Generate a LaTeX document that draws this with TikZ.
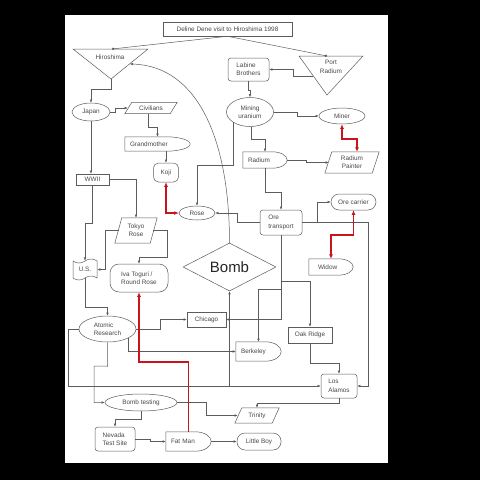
\documentclass[tikz,border=0pt]{standalone}
\usepackage{fontspec}
\setmainfont{Liberation Sans}
\usetikzlibrary{arrows.meta,shapes.geometric,shapes.symbols,calc}

\definecolor{linec}{HTML}{5C5C5C}
\definecolor{textc}{HTML}{484848}
\definecolor{redc}{HTML}{C8141C}

% flat left side, round right side
\newcommand{\delayline}[2]{%
  \draw[shapeline] (#1.north west) -- ([xshift=-#2]#1.north east)
    .. controls ([xshift=-0.45*#2]#1.north east) and ($(#1.north east)!0.45!(#1.east)$) .. (#1.east)
    .. controls ($(#1.south east)!0.45!(#1.east)$) and ([xshift=-0.45*#2]#1.south east) .. ([xshift=-#2]#1.south east)
    -- (#1.south west) -- cycle;}
% slanted box
\newcommand{\paraline}[2]{%
  \draw[shapeline] ([xshift=#2]#1.north west) -- (#1.north east) -- ([xshift=-#2]#1.south east) -- (#1.south west) -- cycle;}

\begin{document}
\begin{tikzpicture}[x=1pt, y=-1pt]
  \tikzset{every node/.style={font=\fontsize{6.4}{8.4}\selectfont, text=textc}}
  \tikzset{shapeline/.style={draw=linec, line width=0.5pt}}
  \tikzset{conn/.style={draw=linec, line width=0.5pt, -{Latex[length=3.2pt,width=2.6pt]}}}
  \tikzset{dotconn/.style={draw=linec, line width=0.5pt, -{Circle[length=2.4pt]}}}
  \tikzset{redconn/.style={draw=redc, line width=1.5pt, {Latex[length=4.5pt,width=4pt]}-{Latex[length=4.5pt,width=4pt]}}}
  \tikzset{redone/.style={draw=redc, line width=1.5pt, -{Latex[length=4.5pt,width=4pt]}}}
  \tikzset{plainbox/.style 2 args={shapeline, minimum width=#1, minimum height=#2, inner sep=0pt}}
  \tikzset{roundbox/.style 2 args={plainbox={#1}{#2}, rounded corners=3pt}}
  \tikzset{pillbox/.style 2 args={plainbox={#1}{#2}, rounded corners=8pt}}
  \tikzset{ovalbox/.style 2 args={plainbox={#1}{#2}, ellipse}}
  \tikzset{tapebox/.style 2 args={plainbox={#1}{#2}, tape, tape bend height=4pt}}
  \tikzset{delaybox/.style 2 args={text width=#1, minimum height=#2, inner xsep=5pt, inner ysep=0pt, align=left}}
  \tikzset{parabox/.style 2 args={minimum width=#1, minimum height=#2, inner sep=0pt, align=center}}

  \fill[black] (0,0) rectangle (480,480);
  \fill[white] (65,15) rectangle (388,463);
  \useasboundingbox (0,0) rectangle (480,480);

  \node[plainbox={129pt}{14pt}] (title) at (227.5,29) {Deline Dene visit to Hiroshima 1998};
  \draw[shapeline] (73,49) -- (148,49) -- (111,79) -- cycle;
  \node (hiro) at (110,57) {Hiroshima};
  \coordinate (hirotop) at (112,49);
  \coordinate (hiroapex) at (111,79);
  \coordinate (hiroside) at (130,64);
  \draw[shapeline] (299,56) -- (363,56) -- (327,95) -- cycle;
  \node[align=center] (port) at (331,67) {Port\\Radium};
  \coordinate (porttop) at (327,56);
  \coordinate (portside) at (313,76);

  \node[roundbox={41pt}{23pt}, align=left] (labine) at (248.5,69.5) {Labine\\Brothers};
  \node[ovalbox={38pt}{18pt}] (japan) at (91,112) {Japan};
  \node[parabox={52pt}{11pt}] (civ) at (151,108) {Civilians};
  \node[delaybox={55pt}{14pt}] (grand) at (157.5,144) {Grandmother};
  \node[roundbox={25pt}{19pt}, rounded corners=5pt] (koji) at (166,172.5) {Koji};
  \node[ovalbox={47pt}{29pt}, align=center] (mining) at (250,112) {Mining\\uranium};
  \node[ovalbox={46pt}{16pt}] (miner) at (342,116) {Miner};
  \node[delaybox={34pt}{16pt}] (radium) at (265,160) {Radium};
  \node[parabox={54pt}{21pt}] (painter) at (352,162.5) {Radium\\Painter};
  \node[plainbox={33pt}{11pt}] (wwii) at (92.5,179.5) {WWII};
  \node[ovalbox={36pt}{14pt}] (rose) at (197,213) {Rose};
  \node[roundbox={42pt}{25pt}, align=left] (oretr) at (281,222.5) {Ore\\transport};
  \node[pillbox={45pt}{16pt}] (orecar) at (353.5,202) {Ore carrier};
  \node[parabox={42pt}{25pt}] (tokyo) at (136,230.5) {Tokyo\\Rose};
  \node[delaybox={26pt}{16pt}, inner xsep=9pt] (widow) at (331,267) {Widow};
  \node[diamond, aspect=2, shapeline, minimum width=93pt, minimum height=48pt, inner sep=1pt,
        font=\fontsize{15}{18}\selectfont, text=black!85] (bomb) at (229.5,267) {Bomb};
  \node[tapebox={24pt}{21pt}] (us) at (85,269.5) {U.S.};
  \node[roundbox={58pt}{28pt}, rounded corners=9pt, align=left] (iva) at (139,278) {Iva Toguri /\\Round Rose};
  \node[ovalbox={57pt}{26pt}, align=left] (atomic) at (107.5,329) {Atomic\\Research};
  \node[plainbox={39pt}{15pt}] (chicago) at (206.5,319.5) {Chicago};
  \node[plainbox={44pt}{16pt}] (oak) at (310,335) {Oak Ridge};
  \node[delaybox={35pt}{19pt}] (berk) at (258.5,351.5) {Berkeley};
  \node[roundbox={36pt}{24pt}, align=left] (losal) at (339,386) {Los\\Alamos};
  \node[ovalbox={72pt}{17pt}] (btest) at (141,402.5) {Bomb testing};
  \node[parabox={44pt}{15pt}] (trinity) at (257,415.5) {Trinity};
  \node[roundbox={40pt}{24pt}, align=left] (nevada) at (115,439) {Nevada\\Test Site};
  \node[delaybox={35pt}{19pt}] (fatman) at (188.5,441.5) {Fat Man};
  \node[pillbox={44pt}{17pt}] (lboy) at (259,441.5) {Little Boy};

  \delayline{grand}{24pt}
  \delayline{radium}{15pt}
  \delayline{widow}{15pt}
  \delayline{berk}{16pt}
  \delayline{fatman}{16pt}
  \paraline{civ}{7pt}
  \paraline{painter}{7pt}
  \paraline{tokyo}{7pt}
  \paraline{trinity}{7pt}

  \coordinate (oaksplit) at (281,281);
  \coordinate (berksplit) at (281,289);

  % top level
  \draw[dotconn] (title.south) -- (hirotop);
  \draw[dotconn] (title.south) -- (porttop);
  \draw[conn] (portside) -- (293,76) |- (labine.east);
  \draw[conn] (hiroapex) -- (111,89) -| (japan.north);
  \draw[conn] (japan.east) -- (115,112) |- ([xshift=3pt]civ.west);
  \draw[conn] ([xshift=-3pt]civ.south) -- (148,127) -| (grand.north);
  \draw[conn] (koji.north |- grand.south) -- (koji.north);
  \draw[conn] (japan.south) -- (japan.south |- wwii.north);
  \draw[conn] (wwii.east) -| (tokyo.north);
  \draw[conn] (wwii.south) -- (92.5,223) -| (us.north);
  \draw[conn] ([xshift=4pt]tokyo.west) -- (105,230.5) |- (us.east);
  \draw[conn] ([xshift=-4pt]tokyo.east) -- (167,230.5) -- (167,257) -| (iva.north);
  \draw[conn] (us.south) -- (85,307) -| (atomic.north);
  \draw[conn] (bomb.north) .. controls (229.5,140) and (198,66) .. (hiroside);

  % mine side
  \draw[conn] (labine.south) -- (248.5,90) -| (mining.north);
  \draw[conn] (mining.east) -- (297,112) |- (miner.west);
  \draw[conn] ([xshift=1pt]mining.south) -- (251,139) -| (radium.north);
  \draw[conn] (radium.east) -- (306,160) |- ([xshift=4pt]painter.west);
  \draw[conn] (mining.south west) -- ++(0,43) -| (rose.north);
  \draw[conn] (radium.south) -- (265,192) -| (oretr.north);
  \draw[conn] (oretr.west) -- (237,222.5) |- (rose.east);
  \draw[conn] (oretr.east) -- (317,222.5) |- (orecar.west);
  \draw[conn] (oretr.east) -- (368,222.5) |- (losal.east);
  \draw[conn] (oretr.south) |- (chicago.east);
  \draw[conn] (oaksplit) -| (oak.north);
  \draw[conn] (berksplit) -| (berk.north);

  % bomb side
  \draw[conn] (atomic.east) -- (160,329) |- (chicago.west);
  \draw[conn] (atomic.south east) |- (berk.west);
  \draw[conn] (oak.south) -- ++(0,20) -| (losal.north);
  \draw[conn] (atomic.west) -- (68,329) |- (losal.west);
  \draw[conn] (bomb.south |- losal.west) -- (bomb.south);
  \draw[conn] (atomic.south) -- ++(0,24) -- (94,366) |- (btest.west);
  \draw[conn] (btest.south) -- ++(0,8) -| (nevada.north);
  \draw[conn] (btest.east) -- (206,402.5) |- ([xshift=3pt]trinity.west);
  \draw[conn] (losal.south) -- ++(0,5) -| (trinity.north);
  \draw[conn] (nevada.east) -- (150,439) |- (fatman.west);
  \draw[conn] (fatman.east) -- (lboy.west);

  % red links
  \draw[redconn] (koji.south) |- (rose.west);
  \draw[redconn] (miner.south) -- (342,139) -| ([xshift=5pt]painter.north);
  \draw[redconn] (orecar.south) -- (353.5,235) -| (widow.north);
  \draw[redone] (fatman.north) -- ++(0,-70) -| (iva.south);
\end{tikzpicture}
\end{document}
